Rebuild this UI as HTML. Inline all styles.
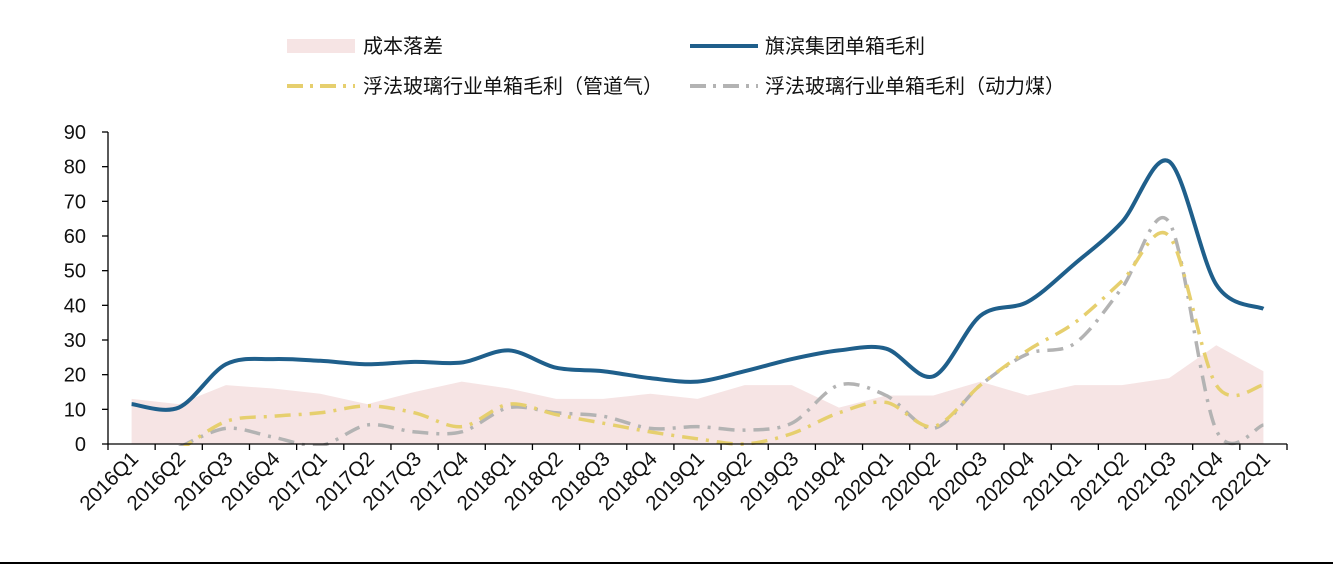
<!DOCTYPE html>
<html><head><meta charset="utf-8"><style>
html,body{margin:0;padding:0;background:#fff;width:1333px;height:574px;overflow:hidden}
svg text{font-family:"Liberation Sans","Noto Sans CJK SC",sans-serif}
</style></head><body>
<svg id="s" width="1333" height="574" xmlns="http://www.w3.org/2000/svg">
<defs><clipPath id="c"><rect x="108" y="100" width="1180" height="346"/></clipPath></defs>
<g font-size="20" fill="#111">
<rect x="287" y="39" width="68" height="14" fill="#f6e4e4"/>
<text x="363" y="53">成本落差</text>
<line x1="690" y1="46" x2="758" y2="46" stroke="#1f5f8b" stroke-width="4"/>
<text x="765" y="53">旗滨集团单箱毛利</text>
<line x1="287" y1="86" x2="355" y2="86" stroke="#e6cf6e" stroke-width="4" stroke-dasharray="16,7,3,7"/>
<text x="363" y="93">浮法玻璃行业单箱毛利（管道气）</text>
<line x1="690" y1="86" x2="758" y2="86" stroke="#b3b3b3" stroke-width="4" stroke-dasharray="16,7,3,7"/>
<text x="765" y="93">浮法玻璃行业单箱毛利（动力煤）</text>
</g>
<g id="g"></g>
<line x1="0" y1="563" x2="1333" y2="563" stroke="#000" stroke-width="2"/>
</svg>
<script>
const X0=108,X1=1287,N=25,sp=(X1-X0)/N,Y0=444,k=(444-132)/90;
const cx=i=>X0+sp/2+i*sp, cy=v=>Y0-v*k;
const labs=[];for(let y=2016;y<=2022;y++)for(let q=1;q<=4;q++){if(labs.length<N)labs.push(y+"Q"+q);}
const fill=[13,11.5,17,16,14.5,11.5,15,18,16,13,13,14.5,13,17,17,10.5,14,14,18,14,17,17,19,28.5,21];
const blue=[11.5,10.5,23,24.5,24,23,23.7,23.5,27,22,21,19,18,21,24.5,27,27.5,19.5,37,41,52,64,81.5,46,39];
const yel=[null,-2,6.5,8,9,11,9,5,11.5,8.5,6,3.5,1.5,0,3,9,12,5,17,27,35,47,60,17,17];
const gra=[null,-1,4.5,2,-0.5,5.5,3.5,3.5,10.5,9,8,4.5,5,4,6,17,14,4.5,17,26,29,45,64,4,5.5];
function smooth(pts){let d="M"+pts[0][0]+","+pts[0][1];
for(let i=0;i<pts.length-1;i++){const p0=pts[Math.max(i-1,0)],p1=pts[i],p2=pts[i+1],p3=pts[Math.min(i+2,pts.length-1)];
const t=0.16;d+=` C${p1[0]+(p2[0]-p0[0])*t},${p1[1]+(p2[1]-p0[1])*t} ${p2[0]-(p3[0]-p1[0])*t},${p2[1]-(p3[1]-p1[1])*t} ${p2[0]},${p2[1]}`;}return d;}
function pts(a){const r=[];a.forEach((v,i)=>{if(v!==null)r.push([cx(i),cy(v)])});return r;}
let h="";
let fp=pts(fill);h+=`<path d="M${cx(0)},${Y0} L${fp.map(p=>p.join(",")).join(" L")} L${cx(N-1)},${Y0} Z" fill="#f6e4e4"/>`;
h+=`<g clip-path="url(#c)">`;
h+=`<path d="${smooth(pts(gra))}" fill="none" stroke="#b3b3b3" stroke-width="3.5" stroke-dasharray="16,8,3,8"/>`;
h+=`<path d="${smooth(pts(yel))}" fill="none" stroke="#e6cf6e" stroke-width="3.5" stroke-dasharray="16,8,3,8"/>`;
h+=`<path d="${smooth(pts(blue))}" fill="none" stroke="#1f5f8b" stroke-width="4"/></g>`;
h+=`<line x1="${X0}" y1="132" x2="${X0}" y2="${Y0}" stroke="#000" stroke-width="1.3"/>`;
h+=`<line x1="${X0}" y1="${Y0}" x2="${X1}" y2="${Y0}" stroke="#000" stroke-width="1.3"/>`;
for(let v=0;v<=90;v+=10){const y=cy(v);h+=`<line x1="${X0-6}" y1="${y}" x2="${X0}" y2="${y}" stroke="#000" stroke-width="1.3"/><text x="${X0-22}" y="${y+7}" font-size="20" text-anchor="end" fill="#111">${v}</text>`;}
for(let i=0;i<=N;i++){const x=X0+i*sp;h+=`<line x1="${x}" y1="${Y0}" x2="${x}" y2="${Y0+6}" stroke="#000" stroke-width="1.3"/>`;}
labs.forEach((l,i)=>{const x=cx(i)+8,y=Y0+16;h+=`<text x="${x}" y="${y}" font-size="20.5" text-anchor="end" fill="#111" transform="rotate(-45 ${x} ${y})">${l}</text>`;});
document.getElementById("g").innerHTML=h;
</script>
</body></html>
